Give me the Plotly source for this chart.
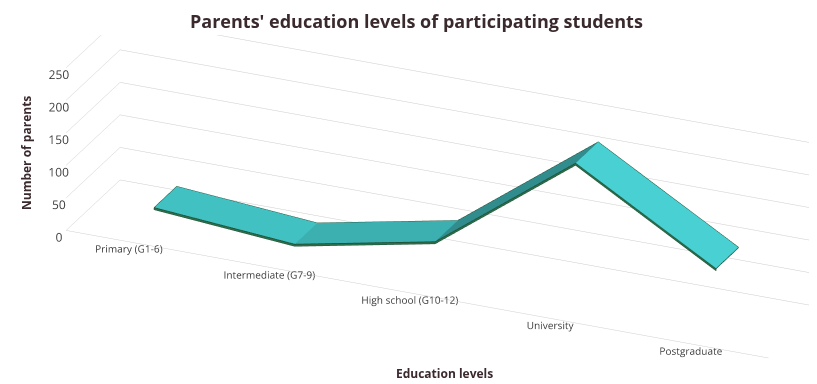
import math
import plotly.graph_objects as go

categories = ["Primary (G1-6)", "Intermediate (G7-9)", "High school (G10-12)", "University", "Postgraduate"]
values = [29, 12, 55, 215, 92]
z_ticks = [0, 50, 100, 150, 200, 250]

n = len(categories)
xs = list(range(n))
y_front, y_back = 0.33, 0.75
thick = 3
ASPECT = dict(x=4.3, y=0.75, z=1.0)

# simple flat shading of ribbon top faces (style only)
base_rgb = (74, 214, 216)
side_rgb = (43, 110, 76)
L = (0.6, -0.3, 0.74)
def shade(v0, v1):
    s = (v1 - v0) / 250 * ASPECT["z"] / (ASPECT["x"] / n)
    nrm = math.sqrt(s * s + 1)
    d = (-s * L[0] + L[2]) / nrm
    f = 0.55 + 0.45 * max(d, 0)
    return "rgb(%d,%d,%d)" % tuple(int(c * f) for c in base_rgb)

vx, vy, vz = [], [], []
for i in range(n):
    vx += [xs[i], xs[i], xs[i]]
    vy += [y_front, y_back, y_front]
    vz += [values[i], values[i], values[i] - thick]

I, J, K, fc = [], [], [], []
for i in range(n - 1):
    a, b, c = 3 * i, 3 * i + 1, 3 * i + 2
    a2, b2, c2 = 3 * (i + 1), 3 * (i + 1) + 1, 3 * (i + 1) + 2
    col = shade(values[i], values[i + 1])
    I += [a, a]; J += [b, b2]; K += [b2, a2]; fc += [col, col]
    I += [a, a]; J += [a2, c2]; K += [c2, c]; fc += ["rgb(%d,%d,%d)" % side_rgb] * 2

fig = go.Figure()
fig.add_trace(go.Mesh3d(x=vx, y=vy, z=vz, i=I, j=J, k=K, facecolor=fc,
                        flatshading=True,
                        lighting=dict(ambient=1.0, diffuse=0.0, specular=0.0, roughness=1.0, fresnel=0.0),
                        hoverinfo="skip", showscale=False))

edge_col = "#1b4a30"
for yy, dz in [(y_front, 0), (y_back, 0), (y_front, -thick)]:
    fig.add_trace(go.Scatter3d(x=xs, y=[yy] * n, z=[v + dz for v in values], mode="lines",
                               line=dict(color=edge_col, width=1.5), hoverinfo="skip", showlegend=False))
for idx in [0, n - 1]:
    fig.add_trace(go.Scatter3d(x=[xs[idx]] * 3, y=[y_back, y_front, y_front],
                               z=[values[idx], values[idx], values[idx] - thick], mode="lines",
                               line=dict(color=edge_col, width=1.5), hoverinfo="skip", showlegend=False))

D = 2.5
eye_dir = (0.319, -0.878, 0.358)
txt = "#3a2a2e"
axis_common = dict(showbackground=False, showspikes=False, title=dict(text=""))
fig.update_layout(
    width=817, height=384,
    margin=dict(l=0, r=0, t=0, b=0),
    paper_bgcolor="white",
    showlegend=False,
    scene=dict(
        domain=dict(x=[0.0, 1.0], y=[0.0, 0.93]),
        xaxis=dict(**axis_common, tickvals=xs, ticktext=categories, range=[-0.5, n - 0.5],
                   showgrid=False, showline=True, linecolor="#cfcfcf", zeroline=False,
                   ticks="", tickangle=0, tickfont=dict(family="Open Sans", size=11, color="#404040")),
        yaxis=dict(**axis_common, range=[0, 1], showgrid=False, showticklabels=False,
                   showline=False, zeroline=False, ticks=""),
        zaxis=dict(**axis_common, range=[0, 250], tickvals=z_ticks, showgrid=True,
                   gridcolor="#cccccc", gridwidth=1, showline=False, zeroline=False, ticks="",
                   tickangle=0, tickfont=dict(family="Open Sans", size=12, color="#404040")),
        aspectmode="manual", aspectratio=ASPECT,
        camera=dict(eye=dict(x=eye_dir[0] * D, y=eye_dir[1] * D, z=eye_dir[2] * D),
                    center=dict(x=-0.17, y=0, z=-0.19),
                    up=dict(x=0, y=0, z=1), projection=dict(type="orthographic")),
    ),
    annotations=[
        dict(text="<b>Parents' education levels of participating students</b>", x=0.5, y=1 - 13 / 384,
             xref="paper", yref="paper", xanchor="center", yanchor="middle", showarrow=False,
             font=dict(family="Open Sans", size=18, color=txt)),
        dict(text="<b>Number of parents</b>", x=18 / 817, y=1 - 145 / 384, xref="paper", yref="paper",
             xanchor="center", yanchor="middle",
             textangle=-90, showarrow=False, font=dict(family="Open Sans", size=12, color=txt)),
        dict(text="<b>Education levels</b>", x=437 / 817, y=1 - 365 / 384, xref="paper", yref="paper",
             xanchor="center", yanchor="middle",
             showarrow=False, font=dict(family="Open Sans", size=12, color=txt)),
    ],
)

fig.write_html("out.html")
